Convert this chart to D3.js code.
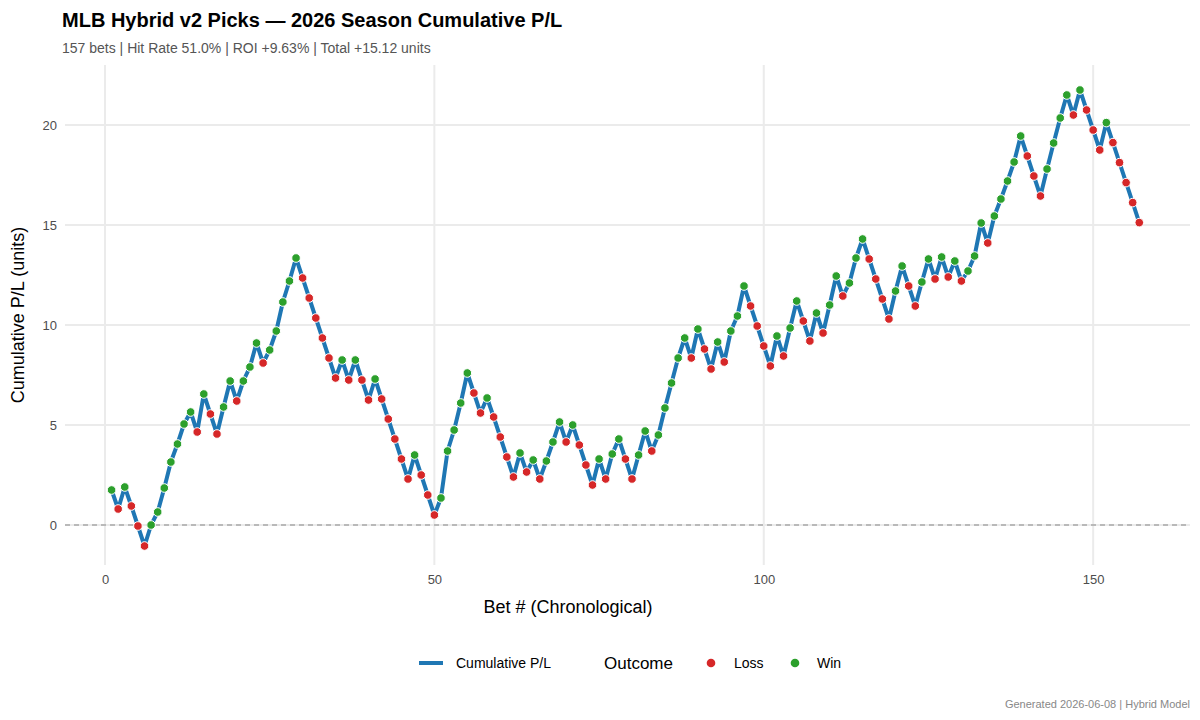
<!DOCTYPE html>
<html>
<head>
<meta charset="utf-8">
<script src="https://cdn.jsdelivr.net/npm/d3@7"></script>
<style>
  body { margin: 0; background: #fff; font-family: "Liberation Sans", Arial, sans-serif; }
</style>
</head>
<body>
<div id="chart"></div>
<script>
// cumulative P/L after each bet
var cumPL = [
  1.75, 0.8, 1.9, 0.95, -0.05, -1.05, 0.0, 0.65, 1.85, 3.15,
  4.05, 5.05, 5.65, 4.65, 6.55, 5.55, 4.55, 5.9, 7.2, 6.2,
  7.2, 7.9, 9.1, 8.1, 8.75, 9.7, 11.15, 12.2, 13.35, 12.35,
  11.35, 10.35, 9.35, 8.35, 7.35, 8.25, 7.25, 8.25, 7.25, 6.25,
  7.3, 6.3, 5.3, 4.3, 3.3, 2.3, 3.5, 2.5, 1.5, 0.5,
  1.35, 3.7, 4.75, 6.1, 7.6, 6.6, 5.6, 6.35, 5.4, 4.4,
  3.4, 2.4, 3.6, 2.65, 3.25, 2.3, 3.2, 4.15, 5.15, 4.15,
  5.0, 4.0, 3.0, 2.0, 3.3, 2.3, 3.55, 4.3, 3.3, 2.3,
  3.5, 4.7, 3.7, 4.5, 5.85, 7.1, 8.35, 9.35, 8.35, 9.8,
  8.8, 7.8, 9.15, 8.15, 9.7, 10.45, 11.95, 10.95, 9.95, 8.95,
  7.95, 9.45, 8.45, 9.85, 11.2, 10.2, 9.2, 10.6, 9.6, 11.0,
  12.45, 11.45, 12.1, 13.35, 14.3, 13.3, 12.3, 11.3, 10.3, 11.7,
  12.95, 11.95, 10.95, 12.15, 13.3, 12.3, 13.4, 12.4, 13.2, 12.2,
  12.7, 13.45, 15.1, 14.1, 15.45, 16.3, 17.2, 18.15, 19.45, 18.45,
  17.45, 16.45, 17.8, 19.1, 20.35, 21.5, 20.5, 21.75, 20.75, 19.75,
  18.75, 20.12, 19.12, 18.12, 17.12, 16.12, 15.12
];
// W = win, L = loss
var outcomes = (
  "WLWLLLWWWW" + "WWWLWLLWWL" + "WWWLWWWWWL" + "LLLLLWLWLL" + "WLLLLLWLLL" +
  "WWWWWLLWLL" + "LLWLWLWWWL" + "WLLLWLWWLL" + "WWLWWWWWLW" + "LLWLWWWLLL" +
  "LWLWWLLWLW" + "WLWWWLLLLW" + "WLLWWLWLWL" + "WWWLWWWWWL" + "LLWWWWLWLL" +
  "LWLLLLL"
).split("");
var xTicks = [0, 50, 100, 150];
var yTicks = [0, 5, 10, 15, 20];

var data = cumPL.map(function(v, i) {
  return { bet: i + 1, pl: v, outcome: outcomes[i] === "W" ? "Win" : "Loss" };
});

var W = 1200, H = 720;
var margin = { top: 65, right: 10, bottom: 155, left: 65 };
var width = W - margin.left - margin.right;
var height = H - margin.top - margin.bottom;

var colors = { Line: "#1f77b4", Loss: "#d62728", Win: "#2ca02c" };

var svg = d3.select("#chart").append("svg")
  .attr("width", W).attr("height", H);

var g = svg.append("g")
  .attr("transform", `translate(${margin.left}, ${margin.top})`);

var x = d3.scaleLinear().domain([-6.07, 164.7]).range([0, width]);
var y = d3.scaleLinear().domain([-2, 23]).range([height, 0]);

// gridlines
g.selectAll(".gx").data(xTicks).enter().append("line")
  .attr("x1", d => x(d)).attr("x2", d => x(d))
  .attr("y1", 0).attr("y2", height)
  .attr("stroke", "#ebebeb").attr("stroke-width", 2);
g.selectAll(".gy").data(yTicks).enter().append("line")
  .attr("x1", 0).attr("x2", width)
  .attr("y1", d => y(d)).attr("y2", d => y(d))
  .attr("stroke", "#ebebeb").attr("stroke-width", 2);

// zero line
g.append("line")
  .attr("x1", 0).attr("x2", width)
  .attr("y1", y(0)).attr("y2", y(0))
  .attr("stroke", "#888").attr("stroke-width", 1.2)
  .attr("stroke-dasharray", "5,4");

// axes (labels only)
var xAxis = g.append("g")
  .attr("transform", `translate(0, ${height})`)
  .call(d3.axisBottom(x).tickValues(xTicks).tickSize(0).tickPadding(10));
var yAxis = g.append("g")
  .call(d3.axisLeft(y).tickValues(yTicks).tickSize(0).tickPadding(8));
[xAxis, yAxis].forEach(function(a) {
  a.select(".domain").remove();
  a.selectAll("text").attr("fill", "#4d4d4d").style("font-size", "13px")
    .style("font-family", "Liberation Sans, Arial, sans-serif");
});

// line
var line = d3.line().x(d => x(d.bet)).y(d => y(d.pl));
g.append("path").datum(data)
  .attr("d", line)
  .attr("fill", "none")
  .attr("stroke", colors.Line)
  .attr("stroke-width", 4)
  .attr("stroke-linejoin", "round");

// points
g.selectAll("circle.pt").data(data).enter().append("circle")
  .attr("class", "pt")
  .attr("cx", d => x(d.bet))
  .attr("cy", d => y(d.pl))
  .attr("r", 4.3)
  .attr("fill", d => colors[d.outcome])
  .attr("stroke", "#fff").attr("stroke-width", 1);

// titles
svg.append("text").attr("x", 62).attr("y", 27)
  .style("font-size", "20px").style("font-weight", "bold").attr("fill", "#000")
  .text("MLB Hybrid v2 Picks \u2014 2026 Season Cumulative P/L");
svg.append("text").attr("x", 62).attr("y", 53)
  .style("font-size", "14px").attr("fill", "#555")
  .text("157 bets | Hit Rate 51.0% | ROI +9.63% | Total +15.12 units");

svg.append("text")
  .attr("transform", "translate(568, 613)")
  .attr("text-anchor", "middle")
  .style("font-size", "18px").attr("fill", "#000")
  .text("Bet # (Chronological)");
svg.append("text")
  .attr("transform", `translate(24, ${margin.top + height / 2}) rotate(-90)`)
  .attr("text-anchor", "middle")
  .style("font-size", "18px").attr("fill", "#000")
  .text("Cumulative P/L (units)");

// legend
var lg = svg.append("g").attr("transform", "translate(0, 663)");
lg.append("line").attr("x1", 419).attr("x2", 443).attr("y1", 0).attr("y2", 0)
  .attr("stroke", colors.Line).attr("stroke-width", 4);
lg.append("text").attr("x", 456).attr("y", 5).style("font-size", "14px").text("Cumulative P/L");
lg.append("text").attr("x", 604).attr("y", 6).style("font-size", "17px").text("Outcome");
lg.append("circle").attr("cx", 711).attr("cy", 0).attr("r", 4.3).attr("fill", colors.Loss);
lg.append("text").attr("x", 734).attr("y", 5).style("font-size", "14px").text("Loss");
lg.append("circle").attr("cx", 795).attr("cy", 0).attr("r", 4.3).attr("fill", colors.Win);
lg.append("text").attr("x", 817).attr("y", 5).style("font-size", "14px").text("Win");

svg.append("text").attr("x", 1190).attr("y", 708).attr("text-anchor", "end")
  .style("font-size", "11px").attr("fill", "#888")
  .text("Generated 2026-06-08 | Hybrid Model");
</script>
</body>
</html>
